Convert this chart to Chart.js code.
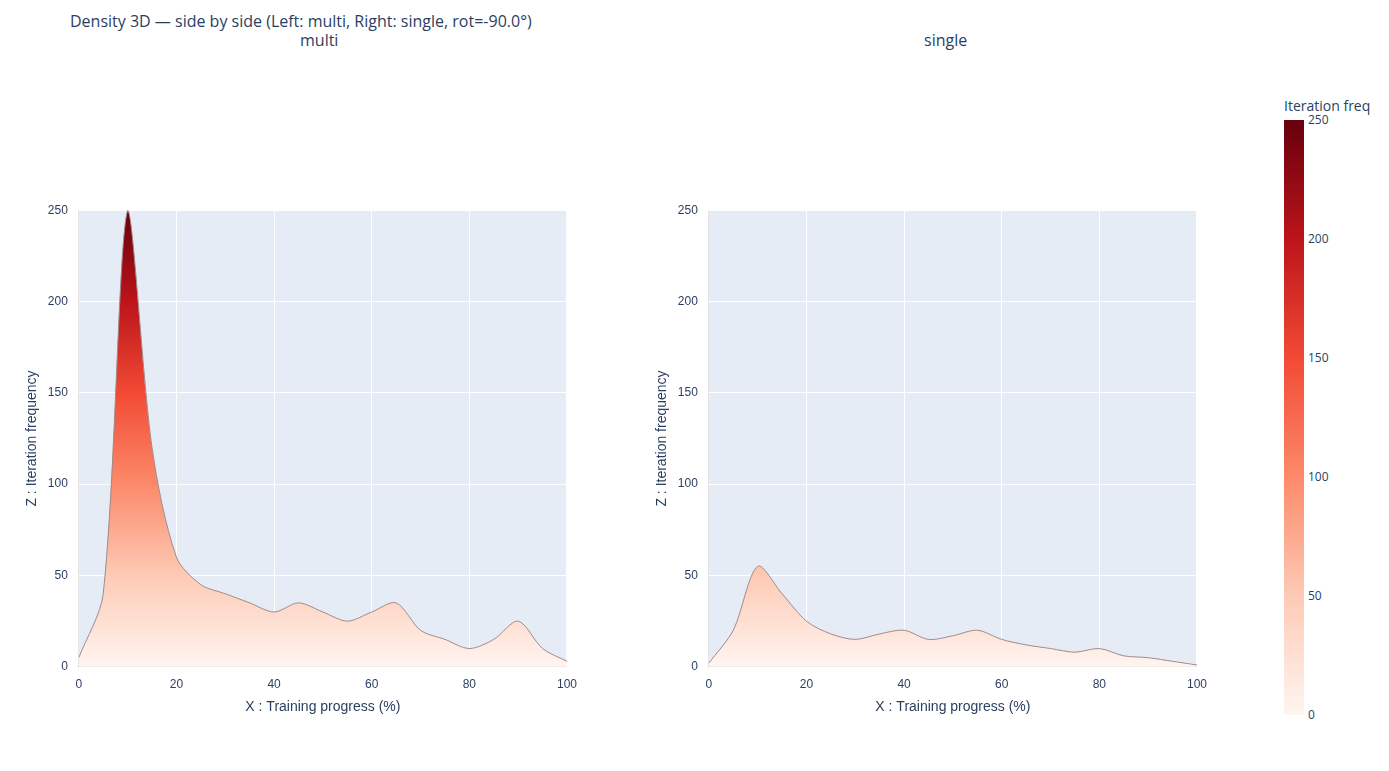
<!DOCTYPE html>
<html><head><meta charset="utf-8">
<script src="https://cdn.jsdelivr.net/npm/chart.js@4"></script>
<style>
body{margin:0;width:1389px;height:771px;background:#fff;font-family:"Open Sans",sans-serif;color:#2a3f5f;position:relative;overflow:hidden}
.t{position:absolute;white-space:nowrap}
#c1{position:absolute;left:20px;top:200px;width:560px;height:520px}
#c2{position:absolute;left:650px;top:200px;width:560px;height:520px}
#cb{position:absolute;left:1284px;top:120px;width:20px;height:595px;background:linear-gradient(to top,#fff5f0,#fdcab5,#fc8a6a,#f24a35,#bc141a,#67000d)}
.cbl{position:absolute;left:1308px;font-size:12px}
</style></head><body>
<div class="t" style="left:70px;top:10px;font-size:16px">Density 3D — side by side (Left: multi, Right: single, rot=-90.0°)</div>
<div class="t" style="left:300px;top:29px;font-size:16px">multi</div>
<div class="t" style="left:924px;top:29px;font-size:16px">single</div>
<div class="t" style="left:1284px;top:96px;font-size:14px">Iteration freq</div>
<div id="cb"></div>
<div id="cbls"></div>
<div id="c1"><canvas id="a"></canvas></div>
<div id="c2"><canvas id="b"></canvas></div>
<script>
const progress=[0,5,10,15,20,25,30,35,40,45,50,55,60,65,70,75,80,85,90,95,100];
const multiFreq=[5,40,250,120,60,45,40,35,30,35,30,25,30,35,20,15,10,15,25,10,3];
const singleFreq=[2,20,55,40,25,18,15,18,20,15,17,20,15,12,10,8,10,6,5,3,1];
const cbTicks=[0,50,100,150,200,250];
const cbl=document.getElementById('cbls');
cbTicks.forEach(v=>{const d=document.createElement('div');d.className='cbl';d.textContent=v;d.style.top=(120+595*(1-v/250)-9)+'px';cbl.appendChild(d);});
const stops=[[0,'#fff5f0'],[0.2,'#fdcab5'],[0.4,'#fc8a6a'],[0.6,'#f24a35'],[0.8,'#bc141a'],[1,'#67000d']];
function grad(ctx){const c=ctx.chart;const a=c.chartArea;if(!a)return '#fcbba1';const y=c.scales.y;const g=c.ctx.createLinearGradient(0,y.getPixelForValue(0),0,y.getPixelForValue(250));stops.forEach(s=>g.addColorStop(s[0],s[1]));return g;}
const bg={id:'bg',beforeDraw(c){const a=c.chartArea;c.ctx.save();c.ctx.fillStyle='#e5ecf6';c.ctx.fillRect(a.left,a.top,a.width,a.height);c.ctx.restore();}};
function make(id,data){new Chart(document.getElementById(id),{type:'line',data:{labels:progress,datasets:[{data:data,fill:true,backgroundColor:grad,borderColor:'#a08a8a',borderWidth:1,pointRadius:0,tension:0.3}]},
options:{responsive:true,maintainAspectRatio:false,animation:false,plugins:{legend:{display:false}},
scales:{x:{type:'linear',min:0,max:100,title:{display:true,text:'X : Training progress (%)',color:'#2a3f5f',font:{size:14}},ticks:{stepSize:20,color:'#2a3f5f'},grid:{color:'#fff'}},
y:{min:0,max:250,title:{display:true,text:'Z : Iteration frequency',color:'#2a3f5f',font:{size:14}},ticks:{stepSize:50,color:'#2a3f5f'},grid:{color:'#fff'}}}},plugins:[bg]});}
make('a',multiFreq);make('b',singleFreq);
</script></body></html>
